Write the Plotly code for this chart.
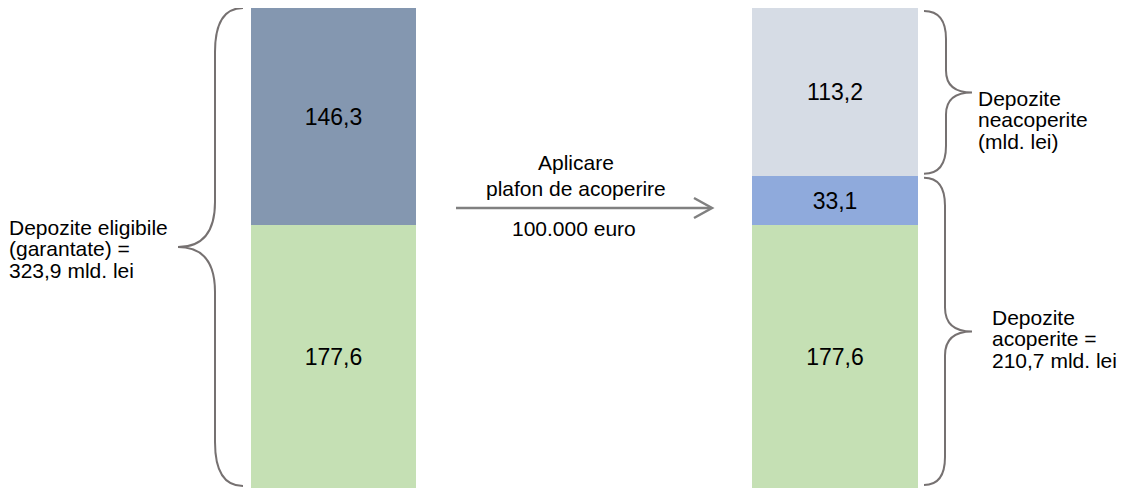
import plotly.graph_objects as go

# ---- data ----
categories = [0, 1]  # 0: depozite eligibile, 1: după aplicarea plafonului
green_vals = [177.6, 177.6]   # acoperite integral
blue_vals = [None, 33.1]      # acoperite până la plafon
dark_vals = [146.3, None]     # eligibile, peste prima parte
grey_vals = [None, 113.2]     # neacoperite
total_eligible = 323.9
covered_total = 210.7

left_label = ["Depozite eligibile", "(garantate) =", "{} mld. lei"]
upper_right_label = ["Depozite", "neacoperite", "(mld. lei)"]
lower_right_label = ["Depozite", "acoperite =", "{} mld. lei"]
arrow_label_top = ["Aplicare", "plafon de acoperire"]
arrow_label_bottom = "100.000 euro"

# ---- layout constants ----
W, H = 1121, 488
MT, MB = 8, 0
PH = H - MT - MB
FONT = "Liberation Sans, Arial, sans-serif"
BRACE_COLOR = "#767171"
ARROW_COLOR = "#808080"


def fmt(v):
    return "" if v is None else f"{v:.1f}".replace(".", ",")


def px_x(px):
    return px / W


def px_y(py):
    return (H - MB - py) / PH


ymax = green_vals[0] + dark_vals[0]
k = ymax / PH  # data units per pixel

fig = go.Figure()
for vals, color in [(green_vals, "#C5E0B4"), (blue_vals, "#8FAADC"),
                    (dark_vals, "#8497B0"), (grey_vals, "#D6DCE5")]:
    fig.add_trace(go.Bar(
        x=categories, y=vals, width=0.33,
        marker=dict(color=color, line=dict(width=0)),
        text=[fmt(v) for v in vals], textposition="inside",
        insidetextanchor="middle", textangle=0, constraintext="none",
        textfont=dict(size=23, color="black", family=FONT),
        hoverinfo="skip", showlegend=False))


def brace_path(xe, xv, xt, top, bot, ce, cm):
    mid = (top + bot) / 2
    xe, xv, xt = px_x(xe), px_x(xv), px_x(xt)
    ce, cm = ce * k, cm * k
    return (f"M {xe},{top} Q {xv},{top} {xv},{top - ce} L {xv},{mid + cm} "
            f"Q {xv},{mid} {xt},{mid} Q {xv},{mid} {xv},{mid - cm} "
            f"L {xv},{bot + ce} Q {xv},{bot} {xe},{bot}")


shapes = []
# left brace: whole eligible bar
shapes.append(dict(type="path", xref="paper", yref="y",
                   path=brace_path(243, 215, 178, ymax, 2 * k, 44, 45),
                   line=dict(color=BRACE_COLOR, width=2)))
# right braces
split = green_vals[1] + blue_vals[1]
shapes.append(dict(type="path", xref="paper", yref="y",
                   path=brace_path(924, 946, 972, ymax - 3 * k, split + 2 * k, 28, 22),
                   line=dict(color=BRACE_COLOR, width=2)))
shapes.append(dict(type="path", xref="paper", yref="y",
                   path=brace_path(924, 945, 972, split - 2 * k, 3 * k, 28, 24),
                   line=dict(color=BRACE_COLOR, width=2)))
# arrow
shapes.append(dict(type="line", xref="paper", yref="paper",
                   x0=px_x(456), x1=px_x(711), y0=px_y(208), y1=px_y(208),
                   line=dict(color=ARROW_COLOR, width=2.5)))
shapes.append(dict(type="path", xref="paper", yref="paper",
                   path=f"M {px_x(694)},{px_y(198)} L {px_x(712)},{px_y(208)} L {px_x(694)},{px_y(218)}",
                   line=dict(color=ARROW_COLOR, width=2.5)))

annotations = []


def add_lines(lines, x, ys, anchor="left"):
    for t, y in zip(lines, ys):
        annotations.append(dict(text=t, x=px_x(x), y=px_y(y), xref="paper", yref="paper",
                                xanchor=anchor, yanchor="middle", showarrow=False,
                                font=dict(size=21, color="black", family=FONT)))


ll = left_label[:2] + [left_label[2].format(fmt(total_eligible))]
add_lines(ll, 7, [227, 248.5, 270])
add_lines(upper_right_label, 976, [98, 119.5, 141])
lr = lower_right_label[:2] + [lower_right_label[2].format(fmt(covered_total))]
add_lines(lr, 990, [317, 338.5, 360])
add_lines(arrow_label_top, 576, [163, 188], anchor="center")
add_lines([arrow_label_bottom], 574, [228], anchor="center")

fig.update_layout(
    width=W, height=H, autosize=False,
    margin=dict(l=0, r=0, t=MT, b=MB, pad=0),
    barmode="stack", bargap=0,
    paper_bgcolor="white", plot_bgcolor="white",
    xaxis=dict(range=[-0.665, 1.5703], visible=False, fixedrange=True),
    yaxis=dict(range=[0, ymax], visible=False, fixedrange=True),
    shapes=shapes, annotations=annotations, showlegend=False,
)

fig.write_html("out.html", config={"displayModeBar": False},
               post_script="document.body.style.margin='0px';document.body.style.overflow='hidden';")
